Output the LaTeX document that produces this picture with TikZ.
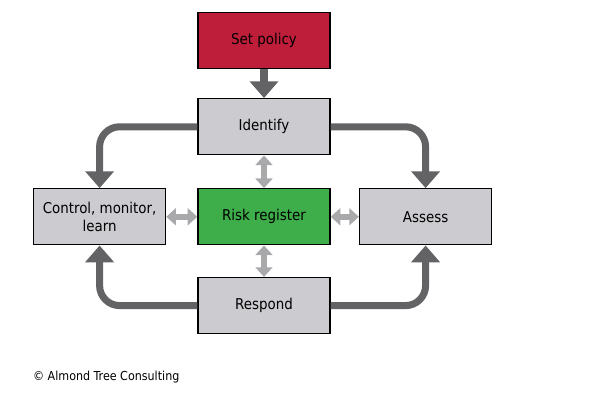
\documentclass[tikz,border=0pt]{standalone}
\usepackage{fontspec}
\setmainfont{DejaVu Sans Condensed}
\usetikzlibrary{arrows.meta}

\definecolor{boxgray}{HTML}{CBCBD0}
\definecolor{policyred}{HTML}{BE1E3A}
\definecolor{registergreen}{HTML}{3DAE49}
\definecolor{flowgray}{HTML}{636366}
\definecolor{linkgray}{HTML}{A9A9AB}

\begin{document}
\begin{tikzpicture}[font=\fontsize{10.6}{12.5}\selectfont,
  stage/.style={draw=black, line width=1pt, fill=boxgray, minimum width=3.3cm,
    minimum height=1.4cm, align=center, inner sep=2pt},
  flow/.style={flowgray, line width=5pt, rounded corners=0.5cm,
    -{Triangle[width=0.7cm, length=0.42cm]}},
  link/.style={linkgray, line width=4.5pt,
    {Triangle[width=0.42cm, length=0.24cm]}-{Triangle[width=0.42cm, length=0.24cm]}}]
  \useasboundingbox (0,0) rectangle (15,10);

  \node[stage, fill=policyred] (policy) at (6.6,8.98) {Set policy};
  \node[stage] (identify) at (6.6,6.83) {Identify};
  \node[stage, fill=registergreen] (register) at (6.6,4.58) {Risk register};
  \node[stage] (respond) at (6.6,2.36) {Respond};
  \node[stage] (control) at (2.49,4.58) {Control, monitor,\\learn};
  \node[stage] (assess) at (10.64,4.58) {Assess};

  \draw[flow] (policy) -- (identify);
  \draw[flow] (identify.west) -| (control.north);
  \draw[flow] (identify.east) -| (assess.north);
  \draw[flow] (respond.west) -| (control.south);
  \draw[flow] (respond.east) -| (assess.south);

  \draw[link] (identify) -- (register);
  \draw[link] (register) -- (respond);
  \draw[link] (control) -- (register);
  \draw[link] (register) -- (assess);

  \node[anchor=west, inner sep=0pt, font=\fontsize{8.8}{10}\selectfont] (credit)
    at (0.82,0.58) {\textcopyright{} Almond Tree Consulting};
\end{tikzpicture}
\end{document}
